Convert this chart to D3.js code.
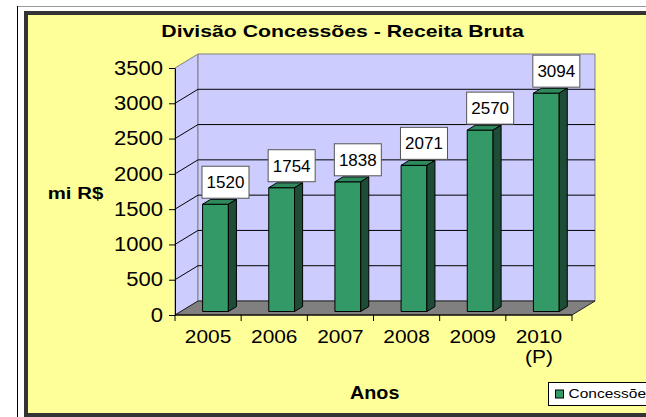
<!DOCTYPE html>
<html>
<head>
<meta charset="utf-8">
<script src="https://cdn.jsdelivr.net/npm/d3@7"></script>
<style>
  body { margin: 0; background: #fff; }
  svg { display: block; font-family: "Liberation Sans", Arial, sans-serif; }
</style>
</head>
<body>
<div id="chart"></div>
<script>
const years = ["2005", "2006", "2007", "2008", "2009", "2010"];
const yearNotes = ["", "", "", "", "", "(P)"];
const receita = [1520, 1754, 1838, 2071, 2570, 3094];
const yTicks = [0, 500, 1000, 1500, 2000, 2500, 3000, 3500];
const seriesName = "Concessões";

const width = 646;
const height = 417;

const svg = d3.select("#chart")
  .append("svg")
  .attr("width", width)
  .attr("height", height);

// outer frame lines
svg.append("line")
  .attr("x1", 17).attr("y1", 6.5).attr("x2", width).attr("y2", 6.5)
  .attr("stroke", "#999");
svg.append("line")
  .attr("x1", 17.5).attr("y1", 6).attr("x2", 17.5).attr("y2", height)
  .attr("stroke", "#000");

// chart area
svg.append("rect")
  .attr("x", 26).attr("y", 13)
  .attr("width", 700).attr("height", 402)
  .attr("fill", "#FFFF99")
  .attr("stroke", "#333")
  .attr("stroke-width", 4);

// scales (front plane)
const x = d3.scaleBand().domain(years).range([175, 572]);
const y = d3.scaleLinear().domain([0, 3500]).range([315, 68]);
const depth = [23, -14];
const bw = x.bandwidth();

function P(px, v, d) {
  return [px + depth[0] * d, y(v) + depth[1] * d];
}
const poly = pts => pts.map(p => p.join(",")).join(" ");

const wallFill = "#CCCCFF";
const x0 = x.range()[0], x1 = x.range()[1];

// side wall
svg.append("polygon")
  .attr("points", poly([P(x0, 0, 0), P(x0, 3500, 0), P(x0, 3500, 1), P(x0, 0, 1)]))
  .attr("fill", wallFill)
  .attr("stroke", "#808080");

// back wall
svg.append("polygon")
  .attr("points", poly([P(x0, 0, 1), P(x0, 3500, 1), P(x1, 3500, 1), P(x1, 0, 1)]))
  .attr("fill", wallFill)
  .attr("stroke", "#808080");

// gridlines
const inner = yTicks.filter(t => t > 0 && t < 3500);
svg.append("g")
  .selectAll("line.grid")
  .data(inner)
  .enter()
  .append("line")
  .attr("class", "grid")
  .attr("x1", P(x0, 0, 1)[0]).attr("x2", P(x1, 0, 1)[0])
  .attr("y1", d => P(x0, d, 1)[1]).attr("y2", d => P(x0, d, 1)[1])
  .attr("stroke", "#000");

svg.append("g")
  .selectAll("line.diag")
  .data(inner)
  .enter()
  .append("line")
  .attr("class", "diag")
  .attr("x1", d => P(x0, d, 0)[0]).attr("y1", d => P(x0, d, 0)[1])
  .attr("x2", d => P(x0, d, 1)[0]).attr("y2", d => P(x0, d, 1)[1])
  .attr("stroke", "#000");

// floor
svg.append("polygon")
  .attr("points", poly([P(x0, 0, 0), P(x1, 0, 0), P(x1, 0, 1), P(x0, 0, 1)]))
  .attr("fill", "#808080")
  .attr("stroke", "#222");

// bars
const barData = years.map((c, i) => {
  const left = x(c) + bw * 0.33;
  return { c, v: receita[i], left, right: left + bw * 0.39 };
});
const d0 = 0.25, d1 = 0.6;

const bars = svg.append("g").selectAll("g.bar")
  .data(barData)
  .enter()
  .append("g")
  .attr("class", "bar")
  .attr("stroke", "#000")
  .attr("stroke-width", 1)
  .attr("stroke-linejoin", "round");

bars.append("polygon")
  .attr("points", d => poly([P(d.left, d.v, d0), P(d.right, d.v, d0), P(d.right, 0, d0), P(d.left, 0, d0)]))
  .attr("fill", "#339966");
bars.append("polygon")
  .attr("points", d => poly([P(d.left, d.v, d0), P(d.right, d.v, d0), P(d.right, d.v, d1), P(d.left, d.v, d1)]))
  .attr("fill", "#2E8A5C");
bars.append("polygon")
  .attr("points", d => poly([P(d.right, d.v, d0), P(d.right, d.v, d1), P(d.right, 0, d1), P(d.right, 0, d0)]))
  .attr("fill", "#1D4D36");

// value labels
const boxW = 47, boxH = 32;
const labels = svg.append("g").selectAll("g.vlabel")
  .data(barData)
  .enter()
  .append("g")
  .attr("class", "vlabel")
  .attr("transform", d => {
    const cx = (d.left + d.right) / 2 + depth[0] * d0 + 10;
    const bottom = y(d.v) + depth[1] * d0 - 6;
    return `translate(${cx},${bottom - boxH / 2})`;
  });
labels.append("rect")
  .attr("x", -boxW / 2).attr("y", -boxH / 2)
  .attr("width", boxW).attr("height", boxH)
  .attr("fill", "#fff")
  .attr("stroke", "#555");
labels.append("text")
  .attr("text-anchor", "middle")
  .attr("dy", "0.36em")
  .attr("font-size", "17px")
  .text(d => d.v);

// y axis
const sxTick = 1.13;
const yAxis = svg.append("g")
  .attr("transform", `translate(${x0},0)`)
  .call(d3.axisLeft(y).tickValues(yTicks).tickFormat(d3.format("d")).tickSize(6).tickSizeOuter(0));
yAxis.select(".domain").attr("stroke", "#000");
yAxis.selectAll(".tick line").attr("stroke", "#000");
yAxis.selectAll(".tick text")
  .attr("font-family", "Liberation Sans, Arial, sans-serif")
  .attr("font-size", "19.5px")
  .attr("fill", "#000")
  .attr("x", -12 / sxTick)
  .attr("transform", `scale(${sxTick},1)`);

// x axis
svg.append("line")
  .attr("x1", x0).attr("x2", x1)
  .attr("y1", y(0)).attr("y2", y(0))
  .attr("stroke", "#000");
const bounds = years.map(c => x(c)).concat([x1]);
svg.append("g")
  .selectAll("line.xtick")
  .data(bounds)
  .enter()
  .append("line")
  .attr("class", "xtick")
  .attr("x1", d => d).attr("x2", d => d)
  .attr("y1", y(0)).attr("y2", y(0) + 6)
  .attr("stroke", "#000");

const xAxis = svg.append("g")
  .attr("transform", `translate(0,${y(0)})`)
  .call(d3.axisBottom(x).tickSize(0).tickPadding(15));
xAxis.select(".domain").remove();
xAxis.selectAll(".tick text")
  .attr("font-family", "Liberation Sans, Arial, sans-serif")
  .attr("font-size", "18.5px")
  .attr("fill", "#000")
  .attr("transform", `scale(${sxTick},1)`)
  .each(function (d, i) {
    const t = d3.select(this);
    if (yearNotes[i]) {
      t.append("tspan").attr("x", 0).attr("dy", "1.08em").text(yearNotes[i]);
    }
  });
xAxis.selectAll(".tick")
  .attr("transform", d => `translate(${(x(d) + bw / 2)},0)`);
xAxis.selectAll(".tick text")
  .attr("x", 0);

// titles
svg.append("text")
  .attr("transform", "translate(342.5,37.3) scale(1.25,1)")
  .attr("text-anchor", "middle")
  .attr("font-weight", "bold")
  .attr("font-size", "17px")
  .text("Divisão Concessões - Receita Bruta");

svg.append("text")
  .attr("transform", "translate(75.5,199) scale(1.2,1)")
  .attr("text-anchor", "middle")
  .attr("font-weight", "bold")
  .attr("font-size", "17px")
  .text("mi R$");

svg.append("text")
  .attr("transform", "translate(374.7,399.3) scale(1.13,1)")
  .attr("text-anchor", "middle")
  .attr("font-weight", "bold")
  .attr("font-size", "17.5px")
  .text("Anos");

// legend (runs past the right edge, as in the original)
const legend = svg.append("g").attr("transform", "translate(548.5,382.5)");
legend.append("rect")
  .attr("width", 130).attr("height", 23)
  .attr("fill", "#fff")
  .attr("stroke", "#000");
legend.append("rect")
  .attr("x", 7).attr("y", 7.5)
  .attr("width", 8).attr("height", 8)
  .attr("fill", "#339966")
  .attr("stroke", "#000");
legend.append("text")
  .attr("transform", "translate(20,15.5) scale(1.24,1)")
  .attr("font-size", "12.5px")
  .text(seriesName);
</script>
</body>
</html>
